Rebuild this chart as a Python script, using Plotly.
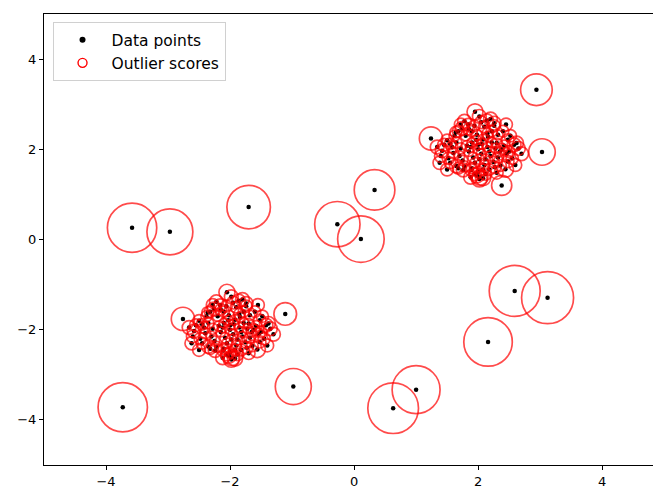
import numpy as np
import plotly.graph_objects as go

# Cluster centres (the two inlier clusters share the same shape)
cluster_centers = [2.0, -2.0]

# Offsets of inlier points from their cluster centre, and their normalised outlier score
inlier_dx = [-0.76, -0.05, 0.02, 0.20, 0.26, -0.16, -0.26, -0.58, -0.48, -0.35,
             -0.24, -0.11, 0.03, 0.27, 0.44, 0.48, 0.46, 0.58, 0.62, 0.48,
             0.00, -0.03, 0.16, 0.30, 0.32, -0.35, -0.42, -0.20, -0.10, 0.10,
             0.05, -0.15, -0.30, 0.20, 0.35, 0.15, -0.05, 0.10, -0.25, 0.25,
             -0.45, -0.10, 0.40, 0.55, -0.50, 0.00, 0.12, -0.38, 0.22, -0.60,
             0.05, -0.22, 0.65, -0.12, 0.30, 0.02, -0.02, 0.08, -0.32, 0.38,
             -0.18, 0.08, -0.08, 0.18, -0.28, 0.28, -0.02, 0.02, -0.40, 0.42,
             -0.15, 0.15, -0.32, 0.18, -0.55, 0.52, -0.12, 0.06, 0.12, -0.22,
             0.36, -0.06, 0.26, -0.36, -0.66, 0.70, 0.60, -0.50, 0.45, -0.28,
             0.00, 0.22, -0.10, 0.08, 0.32, -0.45, 0.14, -0.05, 0.50, -0.62]
inlier_dy = [0.24, 0.83, 0.73, 0.67, 0.58, 0.55, 0.46, -0.03, -0.20, -0.37,
             -0.46, -0.46, -0.62, -0.40, -0.44, -0.27, -0.10, 0.10, 0.14, 0.21,
             0.10, 0.21, 0.28, 0.14, 0.32, 0.15, 0.05, 0.30, 0.40, 0.50,
             -0.10, -0.05, -0.15, -0.15, -0.05, 0.05, -0.30, -0.35, -0.25, -0.28,
             -0.30, 0.15, 0.40, -0.20, 0.20, -0.50, -0.55, 0.30, 0.40, -0.15,
             0.60, 0.62, 0.02, -0.62, -0.52, -0.66, -0.58, -0.64, 0.40, 0.00,
             0.08, 0.22, -0.18, -0.05, 0.02, 0.02, 0.32, -0.22, -0.08, 0.08,
             0.45, 0.35, -0.42, -0.45, 0.10, 0.30, 0.05, 0.12, -0.22, -0.38,
             -0.36, 0.52, 0.52, 0.38, 0.05, -0.10, -0.35, -0.45, 0.55, 0.55,
             0.00, 0.15, -0.42, -0.45, -0.18, 0.12, 0.64, -0.55, -0.05, -0.30]
inlier_score = [0.20, 0.095, 0.07, 0.07, 0.07, 0.055, 0.07, 0.07, 0.055, 0.07,
                0.07, 0.055, 0.095, 0.055, 0.095, 0.055, 0.055, 0.07, 0.07, 0.055,
                0.037, 0.037, 0.037, 0.037, 0.037, 0.045, 0.05, 0.04, 0.045, 0.05,
                0.035, 0.035, 0.04, 0.035, 0.04, 0.035, 0.04, 0.04, 0.04, 0.045,
                0.05, 0.035, 0.05, 0.055, 0.055, 0.05, 0.055, 0.045, 0.045, 0.06,
                0.06, 0.07, 0.07, 0.07, 0.06, 0.09, 0.08, 0.085, 0.05, 0.05,
                0.04, 0.04, 0.04, 0.04, 0.045, 0.04, 0.04, 0.04, 0.045, 0.045,
                0.05, 0.045, 0.05, 0.05, 0.06, 0.055, 0.04, 0.04, 0.04, 0.045,
                0.05, 0.05, 0.055, 0.05, 0.07, 0.07, 0.06, 0.06, 0.06, 0.06,
                0.04, 0.04, 0.045, 0.045, 0.045, 0.05, 0.065, 0.06, 0.05, 0.065]

# Scattered outliers
outlier_x = [-3.58, -2.97, -1.70, -0.27, 0.33, 0.11, -3.73, -0.98, 0.63, 1.00,
             2.16, 2.59, 3.12, 2.94, 3.03, -1.11, 2.38]
outlier_y = [0.26, 0.17, 0.72, 0.34, 1.10, 0.01, -3.72, -3.26, -3.74, -3.33,
             -2.27, -1.14, -1.29, 3.32, 1.94, -1.65, 1.20]
outlier_score = [0.90, 0.78, 0.70, 0.76, 0.61, 0.80, 0.90, 0.48, 0.95, 0.85,
                 0.87, 0.96, 1.00, 0.37, 0.26, 0.19, 0.15]

xs, ys, sc = [], [], []
for c in cluster_centers:
    xs += [c + d for d in inlier_dx]
    ys += [c + d for d in inlier_dy]
    sc += list(inlier_score)
xs += outlier_x
ys += outlier_y
sc += outlier_score

sizes = [52 * np.sqrt(s) for s in sc]

fig = go.Figure()
fig.add_trace(go.Scatter(x=xs, y=ys, mode="markers", showlegend=False, hoverinfo="skip",
                         marker=dict(color="black", size=4.5, line=dict(width=0))))
fig.add_trace(go.Scatter(x=xs, y=ys, mode="markers", showlegend=False, hoverinfo="skip",
                         marker=dict(color="rgba(0,0,0,0)", size=sizes,
                                     line=dict(color="#ff0000", width=1.7))))
# legend entries
fig.add_trace(go.Scatter(x=[None], y=[None], mode="markers", name="Data points",
                         marker=dict(color="black", size=6)))
fig.add_trace(go.Scatter(x=[None], y=[None], mode="markers", name="Outlier scores",
                         marker=dict(color="rgba(0,0,0,0)", size=9,
                                     line=dict(color="#ff0000", width=1.4))))

axis_common = dict(showgrid=False, zeroline=False, showline=True, linecolor="black",
                   linewidth=1.2, ticks="outside", ticklen=4, tickwidth=1,
                   tickcolor="black", tickfont=dict(size=13, color="black"),
                   automargin=False)
fig.update_xaxes(range=[-5, 4.82], tickvals=[-4, -2, 0, 2, 4], mirror=True, **axis_common)
fig.update_yaxes(range=[-5, 5], tickvals=[-4, -2, 0, 2, 4], mirror=False, **axis_common)

fig.update_layout(
    width=653, height=493,
    margin=dict(l=44, r=0, t=14, b=28),
    plot_bgcolor="white", paper_bgcolor="white",
    font=dict(family="DejaVu Sans", size=13, color="black"),
    legend=dict(x=0.014, y=0.982, xanchor="left", yanchor="top",
                bgcolor="white", bordercolor="#d0d0d0", borderwidth=1,
                font=dict(size=15.5), tracegroupgap=0, itemwidth=48),
)

fig.write_html("out.html", config={"displayModeBar": False},
               post_script="document.body.style.margin='0px';document.body.style.padding='0px';")
